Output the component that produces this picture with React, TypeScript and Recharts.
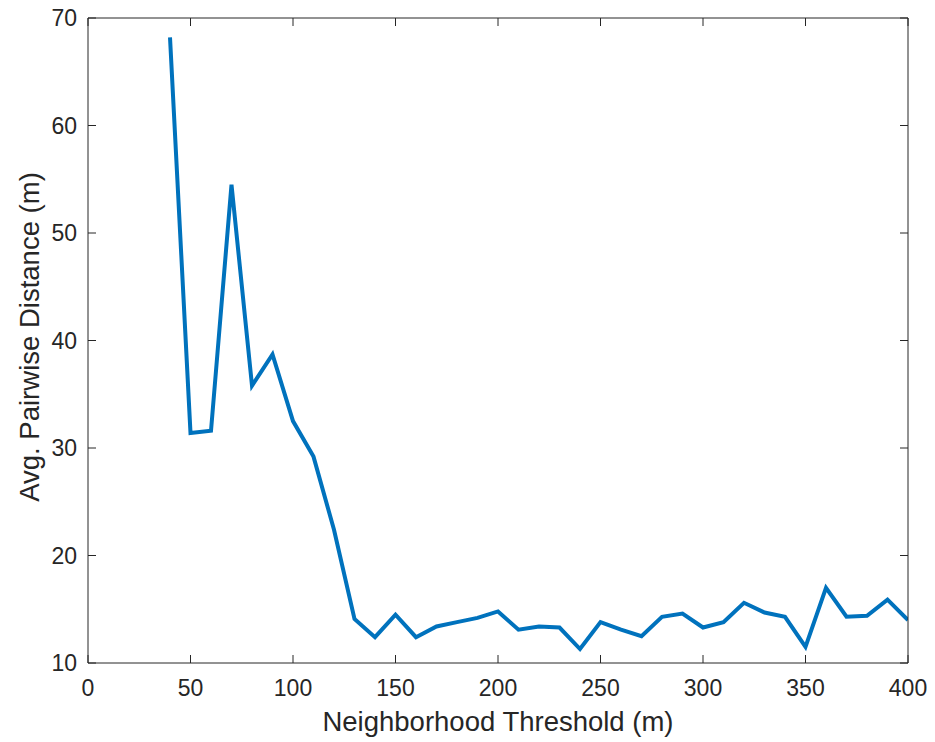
import React from 'react';
import { LineChart, Line, XAxis, YAxis } from 'recharts';

const thresholds = [40, 50, 60, 70, 80, 90, 100, 110, 120, 130, 140, 150, 160, 170, 180, 190, 200, 210, 220, 230, 240, 250, 260, 270, 280, 290, 300, 310, 320, 330, 340, 350, 360, 370, 380, 390, 400];
const avgDistance = [68.2, 31.4, 31.6, 54.5, 35.8, 38.7, 32.5, 29.2, 22.4, 14.1, 12.4, 14.5, 12.4, 13.4, 13.8, 14.2, 14.8, 13.1, 13.4, 13.3, 11.3, 13.8, 13.1, 12.5, 14.3, 14.6, 13.3, 13.8, 15.6, 14.7, 14.3, 11.5, 17.0, 14.3, 14.4, 15.9, 14.0];
const xTicks = [0, 50, 100, 150, 200, 250, 300, 350, 400];
const yTicks = [10, 20, 30, 40, 50, 60, 70];

const data = thresholds.map((t, i) => ({ t, v: avgDistance[i] }));

const AX = '#262626';
const FONT = '"Liberation Sans", Arial, Helvetica, sans-serif';
const tickStyle = { fill: AX, fontSize: 23, fontFamily: FONT };

export default function App() {
  return (
    <div style={{ width: 927, height: 742, marginTop: -8, position: 'relative', fontFamily: FONT }}>
      <LineChart width={927} height={734} data={data} margin={{ top: 17, right: 26, bottom: 11, left: 0 }}>
        <XAxis xAxisId="b" dataKey="t" type="number" domain={[0, 400]} ticks={xTicks} orientation="bottom"
          height={60} tickSize={-8} tickMargin={25} tickLine={{ stroke: AX }} axisLine={{ stroke: AX }} tick={tickStyle} interval={0} allowDataOverflow />
        <XAxis xAxisId="t" dataKey="t" type="number" domain={[0, 400]} ticks={xTicks} orientation="top"
          height={1} tickSize={-8} tickMargin={0} tickLine={{ stroke: AX }} axisLine={{ stroke: AX }} tick={{ fill: 'none', fontSize: 1 }} interval={0} allowDataOverflow />
        <YAxis yAxisId="l" type="number" domain={[10, 70]} ticks={yTicks} orientation="left"
          width={80} tickSize={-8} tickMargin={19} tickLine={{ stroke: AX }} axisLine={{ stroke: AX }} tick={tickStyle} interval={0} allowDataOverflow />
        <YAxis yAxisId="r" type="number" domain={[10, 70]} ticks={yTicks} orientation="right"
          width={1} tickSize={-8} tickMargin={0} tickLine={{ stroke: AX }} axisLine={{ stroke: AX }} tick={{ fill: 'none', fontSize: 1 }} interval={0} allowDataOverflow />
        <Line xAxisId="b" yAxisId="l" dataKey="v" type="linear" stroke="#0072BD" strokeWidth={4}
          dot={false} isAnimationActive={false} />
      </LineChart>
      <div style={{ position: 'absolute', left: 490, top: 722, transform: 'translate(-50%, -50%)', whiteSpace: 'nowrap', fontSize: 27.5, lineHeight: 1, color: AX }}>
        Neighborhood Threshold (m)
      </div>
      <div style={{ position: 'absolute', left: 22, top: 337, transform: 'translate(-50%, -50%) rotate(-90deg)', whiteSpace: 'nowrap', fontSize: 27.5, lineHeight: 1, color: AX }}>
        Avg. Pairwise Distance (m)
      </div>
    </div>
  );
}
